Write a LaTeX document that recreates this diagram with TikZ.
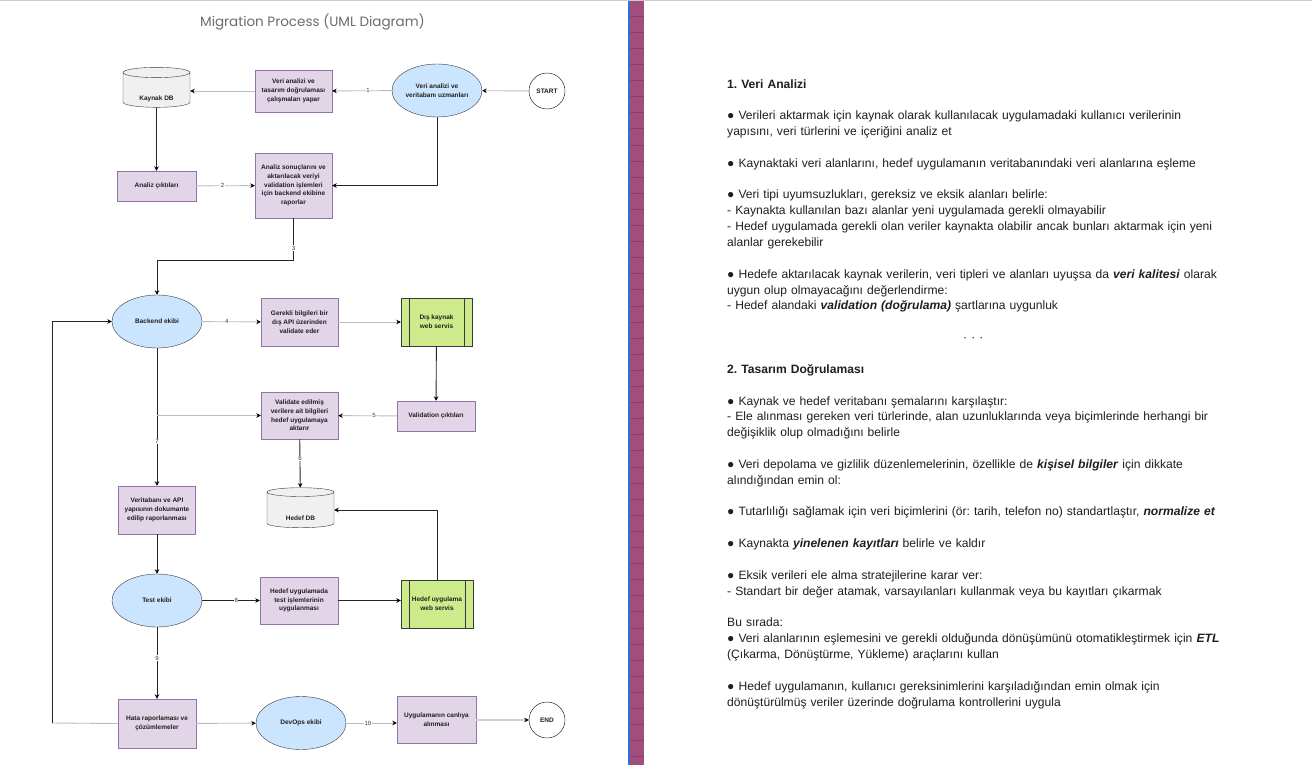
\documentclass[tikz,border=0pt]{standalone}
\usepackage{fontspec}
\setmainfont{Liberation Sans}
\newfontfamily\titlefont{Poppins}
\usetikzlibrary{shapes.geometric,arrows.meta}
\frenchspacing

\definecolor{lila}{HTML}{E1D5E7}
\definecolor{lilarand}{HTML}{9673A6}
\definecolor{mavi}{HTML}{CCE5FF}
\definecolor{yesil}{HTML}{CDEB8B}
\definecolor{koyu}{HTML}{36393D}
\definecolor{silik}{HTML}{BDBDBD}
\definecolor{bant}{HTML}{A04E7B}
\definecolor{bantcizgi}{HTML}{8A4069}
\definecolor{bantmavi}{HTML}{2F6FE0}
\definecolor{baslik}{HTML}{6C6C72}
\definecolor{yazi}{HTML}{1F1F1F}

\begin{document}
\begin{tikzpicture}[x=1bp,y=-1bp,
  every node/.style={font=\fontsize{6.5bp}{8.7bp}\selectfont\bfseries, text=yazi},
  kutu/.style={rectangle, draw=lilarand, fill=lila, align=center, inner sep=1bp},
  aktor/.style={ellipse, draw=koyu, fill=mavi, minimum width=90bp, minimum height=53bp, inner sep=0pt, align=center},
  uc/.style={circle, draw=black, fill=white, minimum size=36bp, inner sep=0pt},
  veritab/.style={cylinder, shape border rotate=90, aspect=0.3, draw=koyu, fill=gray!12,
    minimum width=67bp, minimum height=40bp, inner sep=0pt, text height=21.8bp, text depth=0pt},
  servis/.style={rectangle, draw=koyu, fill=yesil, minimum width=71bp, minimum height=48bp, align=center, inner sep=1bp,
    path picture={\draw[koyu] ([xshift=8bp]path picture bounding box.north west) -- ([xshift=8bp]path picture bounding box.south west)
      ([xshift=-8bp]path picture bounding box.north east) -- ([xshift=-8bp]path picture bounding box.south east);}},
  ok/.style={-{Stealth[length=4.5bp,width=4.5bp,color=black]}, line width=0.9bp, draw=black!85},
  soluk/.style={ok, draw=silik},
  etiket/.style={font=\fontsize{6bp}{6.5bp}\selectfont, text=black!80, fill=white, inner sep=0.6bp}]

  \useasboundingbox (0,0) rectangle (1312,765);
  \fill[white] (0,0) rectangle (1312,765);
  \draw[gray!40, line width=1.5bp] (0,0.75) -- (1312,0.75);

  % title
  \node[font=\titlefont\fontsize{13.5bp}{16bp}\selectfont, text=baslik] (baslik) at (312.5,22) {Migration Process (UML Diagram)};

  % first row
  \node[veritab] (kdb) at (156.5,90) {Kaynak DB};
  \node[kutu, minimum width=77bp, minimum height=42bp] (tdy) at (293.5,91) {Veri analizi ve\\tasarım doğrulaması\\çalışmaları yapar};
  \node[aktor] (vea) at (437,90.5) {Veri analizi ve\\veritabanı uzmanları};
  \node[uc] (start) at (547,91) {START};

  \node[kutu, minimum width=79bp, minimum height=30bp] (acikti) at (156.5,186) {Analiz çıktıları};
  \node[kutu, minimum width=77bp, minimum height=65bp] (asonuc) at (293.5,185.5) {Analiz sonuçlarını ve\\aktarılacak veriyi\\validation işlemleri\\için backend ekibine\\raporlar};

  % backend
  \node[aktor] (backend) at (157,321.5) {Backend ekibi};
  \node[kutu, minimum width=77bp, minimum height=48bp] (gerekli) at (299.5,322) {Gerekli bilgileri bir\\dış API üzerinden\\validate eder};
  \node[servis] (diskaynak) at (436.5,322) {Dış kaynak\\web servis};
  \node[kutu, minimum width=78bp, minimum height=30bp] (vcikti) at (436,416) {Validation çıktıları};
  \node[kutu, minimum width=77bp, minimum height=47bp] (vedilmis) at (299.5,415.5) {Validate edilmiş\\verilere ait bilgileri\\hedef uygulamaya\\aktarır};
  \node[kutu, minimum width=77bp, minimum height=48bp] (veritabani) at (157,510) {Veritabanı ve API\\yapısının dokumante\\edilip raporlanması};
  \node[veritab] (hedefdb) at (300.5,510) {Hedef DB};

  % test
  \node[aktor] (test) at (157,600.5) {Test ekibi};
  \node[kutu, minimum width=78bp, minimum height=47bp] (hutest) at (299,600.5) {Hedef uygulamada\\test işlemlerinin\\uygulanması};
  \node[servis, minimum width=72bp] (huweb) at (437,604) {Hedef uygulama\\web servis};

  % last row
  \node[kutu, minimum width=78bp, minimum height=49bp] (hata) at (157,723.5) {Hata raporlaması ve\\çözümlemeler};
  \node[aktor] (devops) at (301,723) {DevOps ekibi};
  \node[kutu, minimum width=79bp, minimum height=47bp] (canli) at (436.5,719.5) {Uygulamanın canlıya\\alınması};
  \node[uc] (end) at (547,720) {END};
  \coordinate (dongu) at (52,723);

  % connections
  \draw[soluk] (start) -- (vea);
  \draw[soluk] (vea) -- node[etiket, pos=0.4] {1} (tdy);
  \draw[soluk] (tdy) -- (tdy.west -| kdb.east);
  \draw[ok] (kdb) -- (acikti);
  \draw[soluk] (acikti) -- node[etiket, pos=0.45] {2} (asonuc);
  \draw[ok] (vea.south) |- (asonuc.east);
  \draw[ok] (asonuc.south) -- node[etiket, pos=0.71] {3} ++(0,42) -| (backend.north);

  \draw[soluk] (backend) -- node[etiket, pos=0.42] {4} (gerekli);
  \draw[soluk] (gerekli) -- (diskaynak);
  \draw[ok] (diskaynak) -- (vcikti);
  \draw[soluk] (vcikti) -- node[etiket, pos=0.39] {5} (vedilmis);
  \draw[ok] (backend.south) -- node[etiket, pos=0.68] {7} (veritabani.north);
  \draw[soluk] (backend.south |- vedilmis.west) -- (vedilmis.west);
  \draw[ok] (vedilmis) -- node[etiket, pos=0.4] {6} (hedefdb);

  \draw[ok] (veritabani) -- (test);
  \draw[ok] (test) -- node[etiket, pos=0.59] {8} (hutest);
  \draw[ok] (hutest.east) -- (hutest.east -| huweb.west);
  \draw[ok] (huweb.north) |- (hedefdb.east);
  \draw[ok] (test) -- node[etiket, pos=0.43] {9} (hata);

  \draw[soluk] (hata) -- (devops);
  \draw[soluk] (devops) -- node[etiket, pos=0.43] {10} (canli.west |- devops.east);
  \draw[soluk, line width=1.8bp, draw=gray!35] (canli.east |- end.west) -- (end.west);
  \draw[line width=0.9bp, draw=silik] (hata.west) -- (dongu);
  \draw[ok] (dongu) |- (backend.west);

  % side band
  \fill[bant] (630,1.5) rectangle (643.5,765);
  \fill[bantmavi] (628.3,1.5) rectangle (630,765);
  \foreach \i in {1,...,47}
    \draw[bantcizgi, line width=0.7bp] (630,{\i*16.1}) -- (643.5,{\i*16.1});

  % notes on the right
  \node[anchor=base west, text width=570bp, align=left, inner sep=0pt,
    font=\fontsize{12.1bp}{15.85bp}\selectfont, text=yazi] (notlar) at (727,88) {%
    \textbf{1. Veri Analizi}\\[15.85bp]
    ● Verileri aktarmak için kaynak olarak kullanılacak uygulamadaki kullanıcı verilerinin\\
    yapısını, veri türlerini ve içeriğini analiz et\\[15.85bp]
    ● Kaynaktaki veri alanlarını, hedef uygulamanın veritabanındaki veri alanlarına eşleme\\[15.85bp]
    ● Veri tipi uyumsuzlukları, gereksiz ve eksik alanları belirle:\\
    - Kaynakta kullanılan bazı alanlar yeni uygulamada gerekli olmayabilir\\
    - Hedef uygulamada gerekli olan veriler kaynakta olabilir ancak bunları aktarmak için yeni\\
    alanlar gerekebilir\\[15.85bp]
    ● Hedefe aktarılacak kaynak verilerin, veri tipleri ve alanları uyuşsa da \textbf{\textit{veri kalitesi}} olarak\\
    uygun olup olmayacağını değerlendirme:\\
    - Hedef alandaki \textbf{\textit{validation (doğrulama)}} şartlarına uygunluk\\[15.85bp]
    \hspace*{236bp}· · ·\\[15.85bp]
    \textbf{2. Tasarım Doğrulaması}\\[15.85bp]
    ● Kaynak ve hedef veritabanı şemalarını karşılaştır:\\
    - Ele alınması gereken veri türlerinde, alan uzunluklarında veya biçimlerinde herhangi bir\\
    değişiklik olup olmadığını belirle\\[15.85bp]
    ● Veri depolama ve gizlilik düzenlemelerinin, özellikle de \textbf{\textit{kişisel bilgiler}} için dikkate\\
    alındığından emin ol:\\[15.85bp]
    ● Tutarlılığı sağlamak için veri biçimlerini (ör: tarih, telefon no) standartlaştır, \textbf{\textit{normalize et}}\\[15.85bp]
    ● Kaynakta \textbf{\textit{yinelenen kayıtları}} belirle ve kaldır\\[15.85bp]
    ● Eksik verileri ele alma stratejilerine karar ver:\\
    - Standart bir değer atamak, varsayılanları kullanmak veya bu kayıtları çıkarmak\\[15.85bp]
    Bu sırada:\\
    ● Veri alanlarının eşlemesini ve gerekli olduğunda dönüşümünü otomatikleştirmek için \textbf{\textit{ETL}}\\
    (Çıkarma, Dönüştürme, Yükleme) araçlarını kullan\\[15.85bp]
    ● Hedef uygulamanın, kullanıcı gereksinimlerini karşıladığından emin olmak için\\
    dönüştürülmüş veriler üzerinde doğrulama kontrollerini uygula};
\end{tikzpicture}
\end{document}
